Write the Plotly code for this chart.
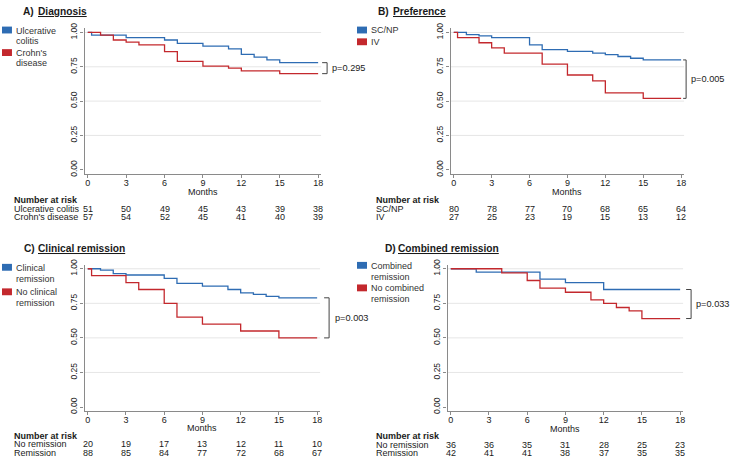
import plotly.graph_objects as go

W, H = 730, 461
FONT = "Liberation Sans, Arial, sans-serif"
BLUE = "#2e6cb3"
RED = "#c3282d"
GRID = "#e6e6e6"
AXIS = "#8a8a8a"
TXT = "#1a1a1a"

month_ticks = [0, 3, 6, 9, 12, 15, 18]
surv_ticks = [0.0, 0.25, 0.5, 0.75, 1.0]
surv_ticklabels = ["0.00", "0.25", "0.50", "0.75", "1.00"]
grid_vals = [0.25, 0.5, 0.75, 1.0]

# ---- Panel A: Diagnosis ----
a_uc_time = [0, 0.3, 3.0, 6.0, 7.0, 9.0, 11.0, 12.0, 13.0, 14.0, 15.0, 18.0]
a_uc_surv = [1.0, 0.98, 0.962, 0.945, 0.92, 0.90, 0.88, 0.84, 0.82, 0.80, 0.78, 0.78]
a_cd_time = [0, 1.0, 2.0, 3.0, 4.0, 6.0, 7.0, 9.0, 11.0, 12.0, 15.0, 18.0]
a_cd_surv = [1.0, 0.98, 0.945, 0.93, 0.91, 0.86, 0.79, 0.755, 0.74, 0.72, 0.70, 0.70]
a_risk_uc = [51, 50, 49, 45, 43, 39, 38]
a_risk_cd = [57, 54, 52, 45, 41, 40, 39]

# ---- Panel B: Preference ----
b_sc_time = [0, 1.0, 2.0, 3.0, 6.0, 7.0, 9.0, 11.0, 12.0, 13.0, 14.0, 15.0, 18.0]
b_sc_surv = [1.0, 0.985, 0.975, 0.962, 0.91, 0.875, 0.862, 0.85, 0.838, 0.825, 0.812, 0.80, 0.80]
b_iv_time = [0, 0.3, 2.0, 3.0, 4.0, 7.0, 9.0, 11.0, 12.0, 15.0, 18.0]
b_iv_surv = [1.0, 0.963, 0.925, 0.888, 0.85, 0.77, 0.69, 0.648, 0.56, 0.52, 0.52]
b_risk_sc = [80, 78, 77, 70, 68, 65, 64]
b_risk_iv = [27, 25, 23, 19, 15, 13, 12]

# ---- Panel C: Clinical remission ----
c_rem_time = [0, 1.0, 2.0, 3.0, 6.0, 7.0, 9.0, 11.0, 12.0, 13.0, 14.0, 15.0, 18.0]
c_rem_surv = [1.0, 0.99, 0.965, 0.955, 0.93, 0.895, 0.875, 0.85, 0.825, 0.815, 0.80, 0.79, 0.79]
c_norem_time = [0, 0.3, 3.0, 4.0, 6.0, 7.0, 9.0, 12.0, 15.0, 18.0]
c_norem_surv = [1.0, 0.95, 0.90, 0.85, 0.75, 0.65, 0.60, 0.55, 0.50, 0.50]
c_risk_norem = [20, 19, 17, 13, 12, 11, 10]
c_risk_rem = [88, 85, 84, 77, 72, 68, 67]

# ---- Panel D: Combined remission ----
d_rem_time = [0, 2.0, 7.0, 9.0, 12.0, 18.0]
d_rem_surv = [1.0, 0.975, 0.925, 0.90, 0.85, 0.85]
d_norem_time = [0, 4.0, 6.0, 7.0, 9.0, 11.0, 12.0, 13.0, 14.0, 15.0, 18.0]
d_norem_surv = [1.0, 0.97, 0.915, 0.86, 0.83, 0.775, 0.75, 0.72, 0.695, 0.64, 0.64]
d_risk_norem = [36, 36, 35, 31, 28, 25, 23]
d_risk_rem = [42, 41, 41, 38, 37, 35, 35]

panels = [
    dict(letter="A)", title="Diagnosis", m0=88, m18=319, y0=167, y1=27,
         curves=[(a_uc_time, a_uc_surv, BLUE, "Ulcerative colitis"),
                 (a_cd_time, a_cd_surv, RED, "Crohn's disease")],
         legend=[(BLUE, ["Ulcerative", "colitis"]), (RED, ["Crohn's", "disease"])],
         leg_x=2, leg_y=[21, 44], leg_line=[[25, 35.5], [47.5, 58.5]],
         risk=[("Ulcerative colitis", a_risk_uc), ("Crohn's disease", a_risk_cd)],
         title_x=[21, 36], title_y=6, lab_x=12, risk_y=[198, 207, 215], months_y=190,
         pval="p=0.295", br_tick=323, br_v=328, p_x=331),
    dict(letter="B)", title="Preference", m0=455, m18=683, y0=167, y1=27,
         curves=[(b_sc_time, b_sc_surv, BLUE, "SC/NP"),
                 (b_iv_time, b_iv_surv, RED, "IV")],
         legend=[(BLUE, ["SC/NP"]), (RED, ["IV"])],
         leg_x=358, leg_y=[21, 33], leg_line=[[24.5], [36.5]],
         risk=[("SC/NP", b_risk_sc), ("IV", b_risk_iv)],
         title_x=[377, 392], title_y=6, lab_x=375, risk_y=[198, 207, 215], months_y=190,
         pval="p=0.005", br_tick=685, br_v=688, p_x=691),
    dict(letter="C)", title="Clinical remission", m0=88, m18=318, y0=409, y1=268,
         curves=[(c_rem_time, c_rem_surv, BLUE, "Clinical remission"),
                 (c_norem_time, c_norem_surv, RED, "No clinical remission")],
         legend=[(BLUE, ["Clinical", "remission"]), (RED, ["No clinical", "remission"])],
         leg_x=2, leg_y=[263, 288], leg_line=[[267, 278], [292, 303]],
         risk=[("No remission", c_risk_norem), ("Remission", c_risk_rem)],
         title_x=[22, 36], title_y=247, lab_x=12, risk_y=[439, 447, 456], months_y=430,
         pval="p=0.003", br_tick=325, br_v=330, p_x=334),
    dict(letter="D)", title="Combined remission", m0=452, m18=682, y0=409, y1=268,
         curves=[(d_rem_time, d_rem_surv, BLUE, "Combined remission"),
                 (d_norem_time, d_norem_surv, RED, "No combined remission")],
         legend=[(BLUE, ["Combined", "remission"]), (RED, ["No combined", "remission"])],
         leg_x=358, leg_y=[261, 284], leg_line=[[265, 276], [288, 299]],
         risk=[("No remission", d_risk_norem), ("Remission", d_risk_rem)],
         title_x=[384, 397], title_y=247, lab_x=375, risk_y=[439, 448, 456], months_y=431,
         pval="p=0.033", br_tick=688, br_v=693, p_x=696),
]

XR = [-0.25, 18.25]
YR = [-0.03, 1.03]

fig = go.Figure()
shapes = []
annotations = []


def py(px):
    return 1 - px / H


def px_(x):
    return x / W


for i, p in enumerate(panels):
    sfx = "" if i == 0 else str(i + 1)
    xa, ya = "x" + sfx, "y" + sfx
    pxu = (p["m18"] - p["m0"]) / 18.0
    pyu = p["y0"] - p["y1"]
    left = p["m0"] + XR[0] * pxu
    right = p["m0"] + XR[1] * pxu
    bottom = p["y0"] - YR[0] * pyu
    top = p["y0"] - YR[1] * pyu

    fig.layout["xaxis" + sfx] = dict(
        domain=[left / W, right / W], range=XR, anchor=ya,
        tickvals=month_ticks, ticks="outside", ticklen=3, tickcolor=AXIS, tickwidth=1,
        ticklabelstandoff=-3,
        showline=True, linecolor=AXIS, linewidth=1.3, showgrid=False, zeroline=False,
        tickfont=dict(size=9, color=TXT, family=FONT), fixedrange=True)
    fig.layout["yaxis" + sfx] = dict(
        domain=[1 - bottom / H, 1 - top / H], range=YR, anchor=xa,
        tickvals=surv_ticks, ticktext=surv_ticklabels, tickangle=-90,
        ticks="outside", ticklen=3, tickcolor=AXIS, tickwidth=1,
        showline=True, linecolor=AXIS, linewidth=1.3, showgrid=False, zeroline=False,
        tickfont=dict(size=8.5, color=TXT, family=FONT), fixedrange=True)

    for g in grid_vals:
        shapes.append(dict(type="line", xref=xa, yref=ya, x0=XR[0], x1=XR[1], y0=g, y1=g,
                           line=dict(color=GRID, width=1), layer="below"))

    for (t, s, col, name) in p["curves"]:
        fig.add_trace(go.Scatter(x=t, y=s, mode="lines", name=name, xaxis=xa, yaxis=ya,
                                 line=dict(color=col, width=1.3, shape="hv"),
                                 showlegend=False, hoverinfo="skip"))

    # titles
    annotations.append(dict(text="<b>" + p["letter"] + "</b>", xref="paper", yref="paper",
                            x=px_(p["title_x"][0]), y=py(p["title_y"]), xanchor="left",
                            yanchor="middle", showarrow=False,
                            font=dict(size=10.2, color=TXT, family=FONT)))
    annotations.append(dict(text="<b><u>" + p["title"] + "</u></b>", xref="paper", yref="paper",
                            x=px_(p["title_x"][1]), y=py(p["title_y"]), xanchor="left",
                            yanchor="middle", showarrow=False,
                            font=dict(size=10.2, color=TXT, family=FONT)))

    # legend
    for (col, lines), sy, ly in zip(p["legend"], p["leg_y"], p["leg_line"]):
        shapes.append(dict(type="rect", xref="paper", yref="paper",
                           x0=px_(p["leg_x"]), x1=px_(p["leg_x"] + 10),
                           y0=py(sy + 7), y1=py(sy), fillcolor=col, line=dict(width=0)))
        for txt, yy in zip(lines, ly):
            annotations.append(dict(text=txt, xref="paper", yref="paper",
                                    x=px_(p["leg_x"] + 12), y=py(yy), xanchor="left",
                                    yanchor="middle", showarrow=False,
                                    font=dict(size=9, color="#333333", family=FONT)))

    # Months label
    annotations.append(dict(text="Months", xref=xa, yref="paper", x=9, y=py(p["months_y"]),
                            xanchor="center", yanchor="middle", showarrow=False,
                            font=dict(size=9, color=TXT, family=FONT)))

    # risk table
    annotations.append(dict(text="<b>Number at risk</b>", xref="paper", yref="paper",
                            x=px_(p["lab_x"]), y=py(p["risk_y"][0]), xanchor="left",
                            yanchor="middle", showarrow=False,
                            font=dict(size=9, color=TXT, family=FONT)))
    for (lab, vals), yy in zip(p["risk"], p["risk_y"][1:]):
        annotations.append(dict(text=lab, xref="paper", yref="paper",
                                x=px_(p["lab_x"]), y=py(yy), xanchor="left",
                                yanchor="middle", showarrow=False,
                                font=dict(size=9, color=TXT, family=FONT)))
        for m, v in zip(month_ticks, vals):
            annotations.append(dict(text=str(v), xref=xa, yref="paper", x=m, y=py(yy),
                                    xanchor="center", yanchor="middle", showarrow=False,
                                    font=dict(size=9, color=TXT, family=FONT)))

    # p-value bracket between final survival values
    s_top = p["curves"][0][1][-1]
    s_bot = p["curves"][1][1][-1]
    ytop = p["y0"] - s_top * pyu
    ybot = p["y0"] - s_bot * pyu
    path = "M {a},{b} L {c},{b} L {c},{d} L {a},{d}".format(
        a=px_(p["br_tick"]), b=py(ytop), c=px_(p["br_v"]), d=py(ybot))
    shapes.append(dict(type="path", xref="paper", yref="paper", path=path,
                       line=dict(color="#444444", width=1)))
    annotations.append(dict(text=p["pval"], xref="paper", yref="paper",
                            x=px_(p["p_x"]), y=py((ytop + ybot) / 2), xanchor="left",
                            yanchor="middle", showarrow=False,
                            font=dict(size=9.2, color=TXT, family=FONT)))

fig.update_layout(width=W, height=H, margin=dict(l=0, r=0, t=0, b=0),
                  paper_bgcolor="white", plot_bgcolor="white",
                  shapes=shapes, annotations=annotations, showlegend=False,
                  font=dict(family=FONT, color=TXT))

fig.write_html("out.html", config={"displayModeBar": False},
               post_script="document.body.style.margin='0px';"
                           "document.body.style.overflow='hidden';")
